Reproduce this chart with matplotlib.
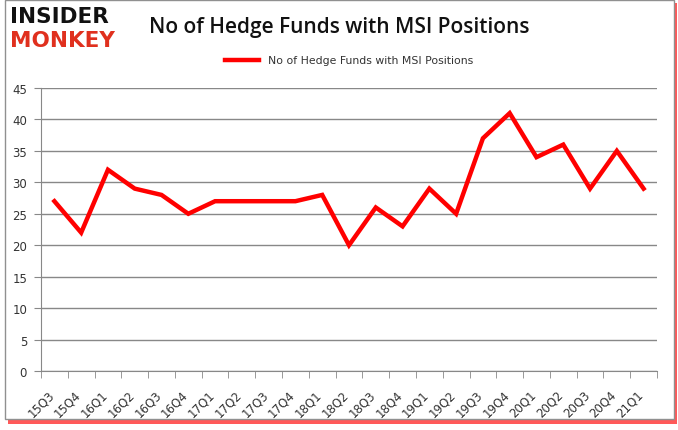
import matplotlib
matplotlib.use("Agg")
import matplotlib.pyplot as plt
from matplotlib.patches import Rectangle
from matplotlib.transforms import ScaledTranslation

quarters = ["15Q3","15Q4","16Q1","16Q2","16Q3","16Q4","17Q1","17Q2","17Q3","17Q4",
            "18Q1","18Q2","18Q3","18Q4","19Q1","19Q2","19Q3","19Q4","20Q1","20Q2",
            "20Q3","20Q4","21Q1"]
funds = [27,22,32,29,28,25,27,27,27,27,28,20,26,23,29,25,37,41,34,36,29,35,29]
yticks = list(range(0, 50, 5))

W, H = 678, 431
fig = plt.figure(figsize=(W/100, H/100), dpi=100)
fig.patch.set_facecolor("white")

# frame with red shadow
fig.patches.append(Rectangle((8/W, 1-425/H), 669/W, 421/H, transform=fig.transFigure,
                             facecolor="#ff3030", edgecolor="none", zorder=-2, alpha=0.8))
fig.patches.append(Rectangle((5/W, 1-420/H), 669/W, 419/H, transform=fig.transFigure,
                             facecolor="white", edgecolor="#909090", lw=1, zorder=-1))

ax = fig.add_axes([41/W, 1-372/H, (657-41)/W, (372-89)/H])
ax.set_zorder(1)
x = list(range(len(quarters)))
ax.plot(x, funds, color="#ff0000", lw=3.2, solid_joinstyle="miter",
        label="No of Hedge Funds with MSI Positions", zorder=3)
ax.set_xlim(-0.5, len(quarters)-0.5)
ax.set_ylim(0, 45)
ax.set_yticks(yticks)
ax.set_yticklabels([str(v) for v in yticks], fontsize=8.5, color="#333333")
ax.yaxis.grid(True, color="#888888", lw=1)
ax.set_axisbelow(True)
ax.set_xticks(x)
ax.set_xticklabels(quarters, rotation=45, fontsize=8.5, color="#333333",
                   ha="right", va="top", rotation_mode="anchor")
ax.tick_params(axis="x", length=0, pad=12)
offset = ScaledTranslation(-7/100, 0, fig.dpi_scale_trans)
for lab in ax.get_xticklabels():
    lab.set_transform(lab.get_transform() + offset)
ax.set_xticks([i-0.5 for i in range(len(quarters)+1)], minor=True)
ax.tick_params(axis="x", which="minor", length=5, color="#888888")
ax.tick_params(axis="y", length=5, color="#888888", pad=5)
for s in ["top", "right"]:
    ax.spines[s].set_visible(False)
for s in ["left", "bottom"]:
    ax.spines[s].set_color("#888888")
ax.patch.set_alpha(0)

leg = ax.legend(loc="upper center", bbox_to_anchor=(0.5, 1.15), frameon=False,
                fontsize=7.8, handlelength=3.2)
for t in leg.get_texts():
    t.set_color("#333333")

fig.text(339/W, 1-28/H, "No of Hedge Funds with MSI Positions", ha="center", va="center",
         fontsize=15, fontweight="semibold", family="Open Sans", color="#111111")
fig.text(10/W, 1-17/H, "INSIDER", ha="left", va="center", fontsize=15.5,
         fontweight="heavy", family="DejaVu Sans", color="#111111")
fig.text(10/W, 1-41/H, "MONKEY", ha="left", va="center", fontsize=15.5,
         fontweight="heavy", family="DejaVu Sans", color="#e0301e")

fig.savefig("out.png", dpi=100)
